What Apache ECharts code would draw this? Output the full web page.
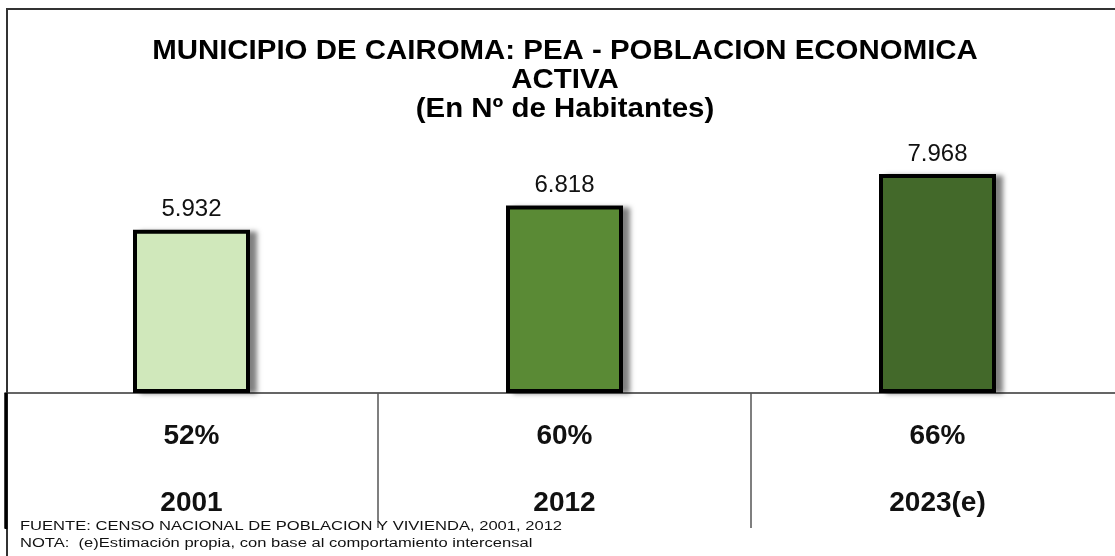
<!DOCTYPE html>
<html>
<head>
<meta charset="utf-8">
<script src="https://cdn.jsdelivr.net/npm/echarts@6/dist/echarts.min.js"></script>
<style>
  html, body { margin: 0; padding: 0; background: #fff; }
  #chart { width: 1115px; height: 556px; }
</style>
</head>
<body>
<div id="chart"></div>
<script>
// datos
const years = ['2001', '2012', '2023(e)'];
const pea = [5932, 6818, 7968];
const shares = ['52%', '60%', '66%'];

const barColors = ['#d0e8bb', '#5a8a35', '#43692a'];

function miles(v) {
  return String(v).replace(/\B(?=(\d{3})+(?!\d))/g, '.');
}

var chartDom = document.getElementById('chart');
var myChart = echarts.init(chartDom);
var option;

var font = 'Liberation Sans, Arial, sans-serif';

option = {
  animation: false,
  textStyle: { fontFamily: font },
  grid: {
    left: 5,
    width: 1119,
    top: 118,
    bottom: 163,
    containLabel: false,
    outerBoundsMode: 'none'
  },
  xAxis: {
    type: 'category',
    data: years,
    axisLine: { onZero: false, lineStyle: { color: '#333', width: 1.5 } },
    axisTick: {
      show: true,
      interval: 0,
      length: 135,
      lineStyle: { color: '#555', width: 1.5 }
    },
    axisLabel: {
      interval: 0,
      margin: 10,
      formatter: function (v, i) {
        return '{p|' + shares[i] + '}\n{y|' + v + '}';
      },
      rich: {
        p: { fontSize: 28, fontWeight: 'bold', color: '#111', lineHeight: 67 },
        y: { fontSize: 28, fontWeight: 'bold', color: '#111', lineHeight: 67 }
      }
    }
  },
  yAxis: {
    type: 'value',
    min: 0,
    max: 10000,
    show: false,
    splitLine: { show: false }
  },
  series: [
    {
      // sombra detras de las barras
      type: 'bar',
      barWidth: 117,
      silent: true,
      z: 1,
      data: pea,
      itemStyle: {
        color: '#fff',
        shadowColor: 'rgba(0,0,0,0.5)',
        shadowBlur: 5,
        shadowOffsetX: 7,
        shadowOffsetY: 1
      }
    },
    {
      type: 'bar',
      barWidth: 117,
      barGap: '-100%',
      z: 2,
      data: pea.map(function (v, i) {
        return { value: v, itemStyle: { color: barColors[i] } };
      }),
      itemStyle: {
        borderColor: '#000',
        borderWidth: 4
      },
      label: {
        show: true,
        position: 'top',
        distance: 8,
        fontSize: 24,
        color: '#111',
        formatter: function (p) { return miles(p.value); }
      }
    }
  ],
  graphic: [
    {
      type: 'text',
      x: 565,
      y: 37,
      scaleX: 1.09,
      originX: 0,
      style: {
        text: 'MUNICIPIO DE CAIROMA: PEA - POBLACION ECONOMICA\nACTIVA\n(En Nº de Habitantes)',
        align: 'center',
        fontSize: 27,
        fontWeight: 'bold',
        lineHeight: 29,
        fill: '#000',
        fontFamily: font
      },
      z: 10
    },
    {
      type: 'polyline',
      shape: { points: [[1115, 9], [7, 9], [7, 556]] },
      style: { stroke: '#333', lineWidth: 2, fill: null },
      z: 10
    },
    {
      type: 'line',
      shape: { x1: 6, y1: 393, x2: 6, y2: 529 },
      style: { stroke: '#000', lineWidth: 3 },
      z: 10
    },
    {
      type: 'text',
      x: 20,
      y: 521,
      scaleX: 1.38,
      style: {
        text: 'FUENTE: CENSO NACIONAL DE POBLACION Y VIVIENDA, 2001, 2012',
        fontSize: 12,
        fill: '#111',
        fontFamily: font
      },
      z: 10
    },
    {
      type: 'text',
      x: 20,
      y: 538,
      scaleX: 1.38,
      style: {
        text: 'NOTA:  (e)Estimación propia, con base al comportamiento intercensal',
        fontSize: 12,
        fill: '#111',
        fontFamily: font
      },
      z: 10
    }
  ]
};

option && myChart.setOption(option);
</script>
</body>
</html>
